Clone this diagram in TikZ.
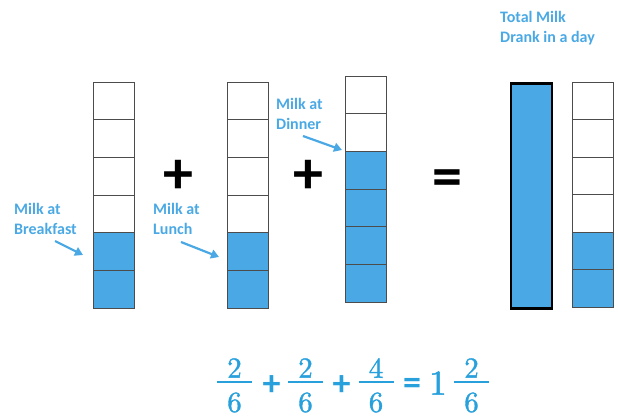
\documentclass[tikz,border=0pt]{standalone}
\usepackage{fontspec}
\setmainfont{Carlito}
\newfontfamily\numfont{lmroman10-regular.otf}[FakeBold=1.3]
\usetikzlibrary{arrows.meta,calc}
\definecolor{milk}{RGB}{74,169,228}
\definecolor{fracblue}{RGB}{40,160,220}
\begin{document}
\begin{tikzpicture}[x=1pt,y=-1pt,
  cell/.style={draw=black!70, line width=0.8pt, minimum width=41pt,
    minimum height=37.67pt, inner sep=0pt, outer sep=0pt, anchor=north west},
  fullcell/.style={cell, fill=milk},
  tag/.style={text=milk, font=\fontsize{16}{20}\selectfont\bfseries,
    align=left, anchor=north west, inner sep=0pt},
  pointer/.style={draw=milk, line width=2.2pt,
    -{Triangle[length=8pt,width=9pt]}},
  bigop/.style={font=\fontsize{60}{60}\selectfont\bfseries, inner sep=0pt},
  digit/.style={text=fracblue, font=\numfont\fontsize{29}{29}\selectfont, inner sep=0pt},
  smallop/.style={text=fracblue, font=\fontsize{36}{36}\selectfont\bfseries, inner sep=0pt},
  fracbar/.style={draw=fracblue, line width=2pt},
]
\useasboundingbox (0,0) rectangle (618,415);

% breakfast: 2 of 6
\foreach \i in {0,...,3} \node[cell] (a\i) at (93,{82+\i*37.67}) {};
\foreach \i in {4,5} \node[fullcell] (a\i) at (93,{82+\i*37.67}) {};
% lunch: 2 of 6
\foreach \i in {0,...,3} \node[cell] (b\i) at (227,{82+\i*37.67}) {};
\foreach \i in {4,5} \node[fullcell] (b\i) at (227,{82+\i*37.67}) {};
% dinner: 4 of 6
\foreach \i in {0,1} \node[cell] (c\i) at (345,{76+\i*37.67}) {};
\foreach \i in {2,...,5} \node[fullcell] (c\i) at (345,{76+\i*37.67}) {};
% total: one whole plus 2 of 6
\node[draw=black, line width=2.6pt, fill=milk, minimum width=41pt,
  minimum height=225pt, inner sep=0pt, anchor=north west] (whole) at (509.5,82) {};
\foreach \i in {0,...,3} \node[cell] (d\i) at (572,{82+\i*37.5}) {};
\foreach \i in {4,5} \node[fullcell] (d\i) at (572,{82+\i*37.5}) {};

% labels
\node[tag] (lb) at (14,203) {Milk at\\Breakfast};
\node[tag] (ll) at (153,203) {Milk at\\Lunch};
\node[tag] (ld) at (276,98) {Milk at\\Dinner};
\node[tag] (lt) at (500,11) {Total Milk\\Drank in a day};

% pointers
\coordinate (pb0) at (55,241);  \coordinate (pb1) at (83,255);
\coordinate (pl0) at (181,242); \coordinate (pl1) at (219,257);
\coordinate (pd0) at (303,136); \coordinate (pd1) at (342,150);
\draw[pointer] (pb0) -- (pb1);
\draw[pointer] (pl0) -- (pl1);
\draw[pointer] (pd0) -- (pd1);

% operators between bars
\node[bigop] (op1) at (178.5,177) {+};
\node[bigop] (op2) at (308,177) {+};
\node[bigop] (op3) at (447.5,183.5) {=};

% equation
\foreach \n/\x/\t in {f1/234.5/2, f2/305.5/2, f3/376/4, f4/471.5/2} {
  \node[digit] (\n n) at (\x,368) {\t};
  \node[digit] (\n d) at (\x,402.5) {6};
  \draw[fracbar] (\x-17.5,382) -- (\x+17.5,382);
}
\node[smallop] (e1) at (271.5,385.5) {\color{fracblue}+};
\node[smallop] (e2) at (341.5,385.5) {\color{fracblue}+};
\node[smallop] (e3) at (412,386.5) {\color{fracblue}=};
\node[digit, font=\numfont\fontsize{35}{35}\selectfont] (one) at (438,383) {1};
\end{tikzpicture}
\end{document}
